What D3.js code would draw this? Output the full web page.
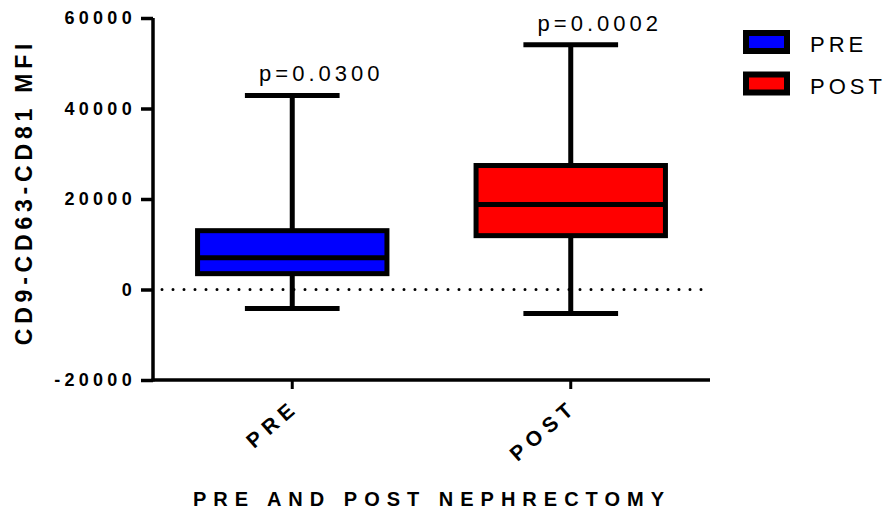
<!DOCTYPE html>
<html>
<head>
<meta charset="utf-8">
<script src="https://cdn.jsdelivr.net/npm/d3@7"></script>
<style>
  body { margin: 0; background: #fff; }
  text { font-family: "Liberation Sans", Arial, sans-serif; }
</style>
</head>
<body>
<svg width="887" height="517"></svg>
<script>
// data
var groups = ["PRE", "POST"];
var colors = ["#0000ff", "#ff0000"];
var whiskerLow = [-4200, -5300];
var q1 = [3500, 11900];
var median = [7000, 18800];
var q3 = [13000, 27400];
var whiskerHigh = [42900, 54100];
var pLabels = ["p=0.0300", "p=0.0002"];
var yTicks = [-20000, 0, 20000, 40000, 60000];

var svg = d3.select("svg"),
    margin = {top: 18, right: 177, bottom: 137, left: 153},
    width = +svg.attr("width") - margin.left - margin.right,
    height = +svg.attr("height") - margin.top - margin.bottom;

var x = d3.scaleBand().domain(groups).range([0, width]).paddingInner(0.32).paddingOuter(0.16),
    y = d3.scaleLinear().domain([-20000, 60000]).range([height, 0]);

var g = svg.append("g")
    .attr("transform", "translate(" + margin.left + "," + margin.top + ")");

// dotted zero line
g.append("line")
    .attr("x1", 9).attr("x2", width)
    .attr("y1", y(0)).attr("y2", y(0))
    .attr("stroke", "#000")
    .attr("stroke-width", 3)
    .attr("stroke-linecap", "round")
    .attr("stroke-dasharray", "0,11");

// axes
var yAxis = d3.axisLeft(y).tickValues(yTicks).tickSize(12).tickPadding(5)
    .tickFormat(function(d) { return String(d); });
var xAxis = d3.axisBottom(x).tickSize(9).tickSizeOuter(0);

var ya = g.append("g").attr("class", "axis").call(yAxis);
ya.select(".domain").attr("stroke-width", 3.5).attr("d", "M0," + (height + 1.5) + "V0");
ya.selectAll(".tick line").attr("stroke-width", 3.5);
ya.selectAll("text")
    .style("font-size", "18px").style("font-weight", "bold").style("letter-spacing", "4.3px")
    .style("font-family", "'Liberation Sans', Arial, sans-serif")
    .attr("fill", "#000");

var xa = g.append("g").attr("class", "axis")
    .attr("transform", "translate(0," + height + ")")
    .call(xAxis);
xa.select(".domain").attr("stroke-width", 3.5).attr("d", "M-1.5,0H" + width);
xa.selectAll(".tick line").attr("stroke-width", 3);
xa.selectAll("text")
    .style("font-size", "21px").style("font-weight", "bold").style("letter-spacing", "6px")
    .style("font-family", "'Liberation Sans', Arial, sans-serif")
    .attr("fill", "#000")
    .attr("text-anchor", "end")
    .attr("y", 0)
    .attr("dy", 0)
    .attr("transform", "translate(8,29) rotate(-41)");

// boxes
var boxes = g.selectAll(".box")
    .data(groups)
    .enter().append("g")
    .attr("class", "box");

var bw = x.bandwidth();

boxes.append("line")
    .attr("x1", function(d) { return x(d) + bw / 2; })
    .attr("x2", function(d) { return x(d) + bw / 2; })
    .attr("y1", function(d, i) { return y(whiskerLow[i]); })
    .attr("y2", function(d, i) { return y(whiskerHigh[i]); })
    .attr("stroke", "#000").attr("stroke-width", 5);

[whiskerLow, whiskerHigh].forEach(function(arr) {
    boxes.append("line")
        .attr("x1", function(d) { return x(d) + bw / 4; })
        .attr("x2", function(d) { return x(d) + bw * 3 / 4; })
        .attr("y1", function(d, i) { return y(arr[i]); })
        .attr("y2", function(d, i) { return y(arr[i]); })
        .attr("stroke", "#000").attr("stroke-width", 5);
});

boxes.append("rect")
    .attr("x", function(d) { return x(d); })
    .attr("width", bw)
    .attr("y", function(d, i) { return y(q3[i]); })
    .attr("height", function(d, i) { return y(q1[i]) - y(q3[i]); })
    .attr("fill", function(d, i) { return colors[i]; })
    .attr("stroke", "#000").attr("stroke-width", 5);

boxes.append("line")
    .attr("x1", function(d) { return x(d); })
    .attr("x2", function(d) { return x(d) + bw; })
    .attr("y1", function(d, i) { return y(median[i]); })
    .attr("y2", function(d, i) { return y(median[i]); })
    .attr("stroke", "#000").attr("stroke-width", 5);

boxes.append("text")
    .attr("x", function(d) { return x(d) + bw / 2 + 29; })
    .attr("y", function(d, i) { return y(whiskerHigh[i]) - 14; })
    .attr("text-anchor", "middle")
    .style("font-size", "22px").style("letter-spacing", "4px")
    .text(function(d, i) { return pLabels[i]; });

// axis titles
svg.append("text")
    .attr("transform", "translate(32," + (margin.top + y(20000) - 7) + ") rotate(-90)")
    .attr("text-anchor", "middle")
    .style("font-size", "23px").style("font-weight", "bold").style("letter-spacing", "4.8px")
    .text("CD9-CD63-CD81 MFI");

svg.append("text")
    .attr("x", 432).attr("y", 506)
    .attr("text-anchor", "middle")
    .style("font-size", "20px").style("font-weight", "bold").style("letter-spacing", "7px")
    .text("PRE AND POST NEPHRECTOMY");

// legend
var legend = svg.selectAll(".legend")
    .data(groups)
    .enter().append("g")
    .attr("class", "legend")
    .attr("transform", function(d, i) { return "translate(746," + (33 + i * 41.5) + ")"; });

legend.append("rect")
    .attr("x", 0).attr("y", 0)
    .attr("width", 41).attr("height", 18)
    .attr("fill", function(d, i) { return colors[i]; })
    .attr("stroke", "#000").attr("stroke-width", 6);

legend.append("text")
    .attr("x", 64).attr("y", 19)
    .style("font-size", "22px").style("letter-spacing", "4px")
    .text(function(d) { return d; });
</script>
</body>
</html>
